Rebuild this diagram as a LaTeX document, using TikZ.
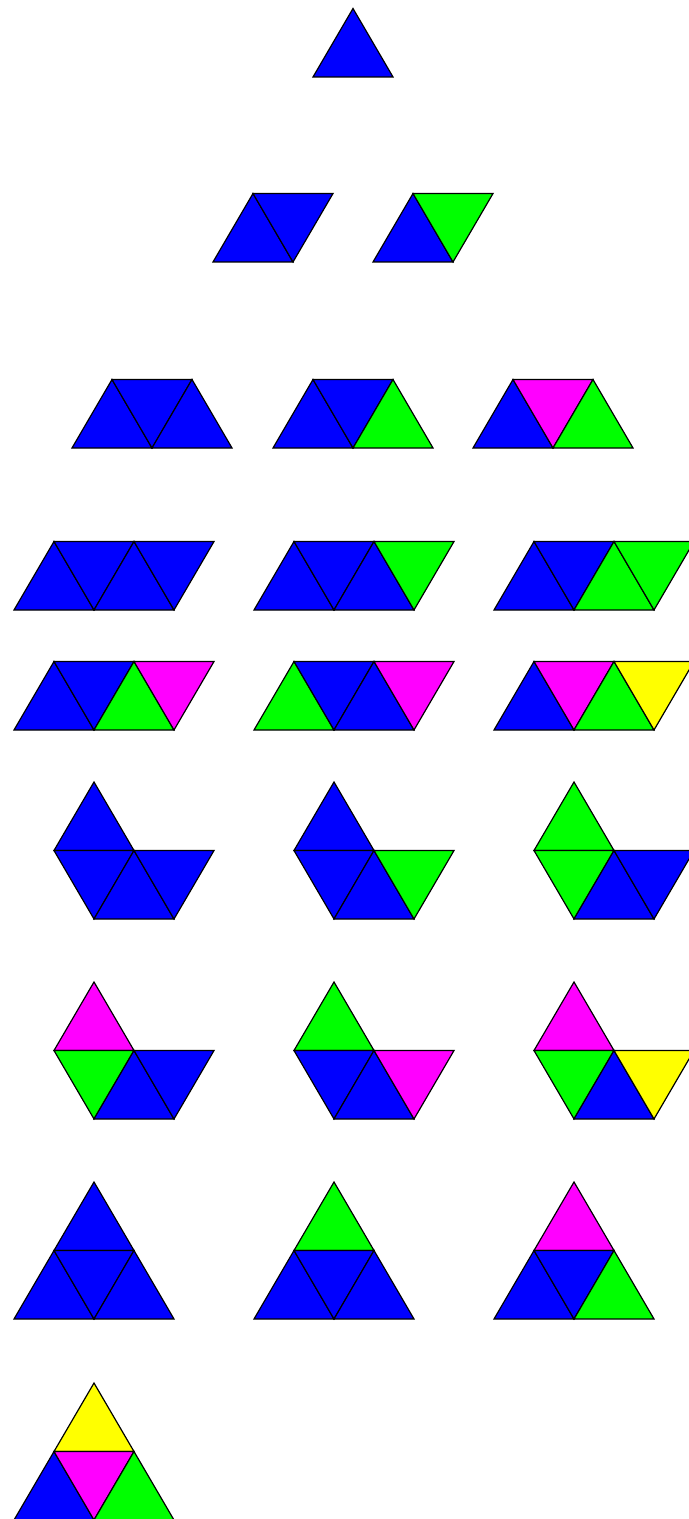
\documentclass[tikz,border=0pt]{standalone}
\usepackage{tikz}
\definecolor{tblue}{HTML}{0000FF}
\definecolor{tgreen}{HTML}{00FF00}
\definecolor{tmagenta}{HTML}{FF00FF}
\definecolor{tyellow}{HTML}{FFFF00}

% one tile: #1 = left x, #2 = bottom y of its strip, #3 = colour
\newcommand{\uptri}[3]{\filldraw[tile, fill=#3] (#1,#2) -- ++(80,0) -- ++(-40,-68.5) -- cycle;}
\newcommand{\dntri}[3]{\filldraw[tile, fill=#3] (#1,#2-68.5) -- ++(80,0) -- ++(-40,68.5) -- cycle;}

\begin{document}
\begin{tikzpicture}[
    x=0.25mm, y=-0.25mm,
    tile/.style={draw=black, line width=0.85pt, line join=miter},
]
\useasboundingbox (0,0) rectangle (688,1519);

% Row 1: one tile
\uptri{313}{77}{tblue}

% Row 2: two tiles
\foreach \dx/\a/\b in {0/tblue/tblue, 160/tblue/tgreen} {
    \uptri{213+\dx}{262}{\a}
    \dntri{253+\dx}{262}{\b}
}

% Row 3: three tiles, trapezoids
\foreach \dx/\a/\b/\c in {0/tblue/tblue/tblue, 201/tblue/tblue/tgreen, 401/tblue/tmagenta/tgreen} {
    \uptri{72+\dx}{448}{\a}
    \dntri{112+\dx}{448}{\b}
    \uptri{152+\dx}{448}{\c}
}

% Rows 4 and 5: four tiles, long parallelograms
\foreach \y/\dx/\a/\b/\c/\d in {
    610/0/tblue/tblue/tblue/tblue,
    610/240/tblue/tblue/tblue/tgreen,
    610/480/tblue/tblue/tgreen/tgreen,
    730/0/tblue/tblue/tgreen/tmagenta,
    730/240/tgreen/tblue/tblue/tmagenta,
    730/480/tblue/tmagenta/tgreen/tyellow} {
    \uptri{14+\dx}{\y}{\a}
    \dntri{54+\dx}{\y}{\b}
    \uptri{94+\dx}{\y}{\c}
    \dntri{134+\dx}{\y}{\d}
}

% Rows 6 and 7: four tiles, bent shapes
\foreach \y/\dx/\a/\b/\c/\d in {
    919/0/tblue/tblue/tblue/tblue,
    919/240/tblue/tblue/tblue/tgreen,
    919/480/tgreen/tgreen/tblue/tblue,
    1119/0/tmagenta/tgreen/tblue/tblue,
    1119/240/tgreen/tblue/tblue/tmagenta,
    1119/480/tmagenta/tgreen/tblue/tyellow} {
    \uptri{54+\dx}{\y-68.5}{\a}
    \dntri{54+\dx}{\y}{\b}
    \uptri{94+\dx}{\y}{\c}
    \dntri{134+\dx}{\y}{\d}
}

% Rows 8 and 9: four tiles, big triangles
\foreach \y/\dx/\a/\b/\c/\d in {
    1319/0/tblue/tblue/tblue/tblue,
    1319/240/tgreen/tblue/tblue/tblue,
    1319/480/tmagenta/tblue/tblue/tgreen,
    1520/0/tyellow/tblue/tmagenta/tgreen} {
    \uptri{54+\dx}{\y-68.5}{\a}
    \uptri{14+\dx}{\y}{\b}
    \dntri{54+\dx}{\y}{\c}
    \uptri{94+\dx}{\y}{\d}
}

\end{tikzpicture}
\end{document}
